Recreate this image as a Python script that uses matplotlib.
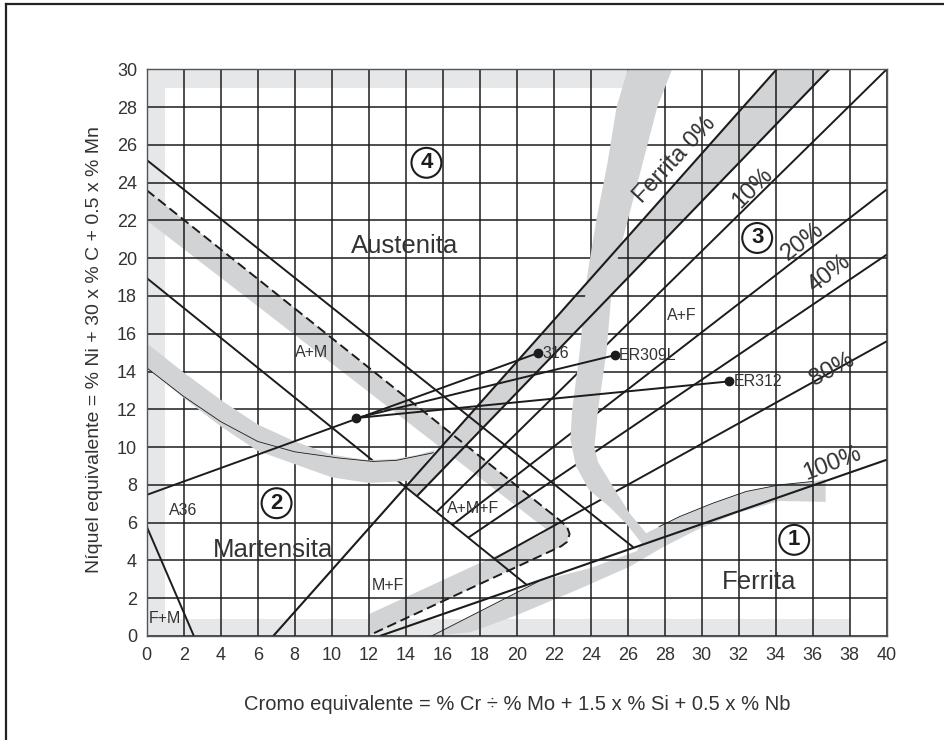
import matplotlib
matplotlib.use("Agg")
import matplotlib.pyplot as plt
from matplotlib.patches import Polygon
from matplotlib.lines import Line2D

plt.rcParams['font.family'] = ['Liberation Sans', 'DejaVu Sans']

# ---------------- data ----------------
x_ticks = list(range(0, 41, 2))
y_ticks = list(range(0, 31, 2))

# ferrite % lines: (x0, y0) -> (x1, y1)
ferr_names = ['0%', '5%', '10%', '20%', '40%', '80%', '100%']
ferr_x0 = [6.84, 14.6, 15.7, 16.55, 17.37, 18.81, 12.6]
ferr_y0 = [0.0, 7.4, 6.6, 5.9, 5.2, 4.1, 0.0]
ferr_x1 = [34.05, 36.9, 40.0, 40.0, 40.0, 40.0, 40.0]
ferr_y1 = [30.0, 30.0, 30.0, 23.64, 20.19, 15.6, 9.33]
ferr_over = [True, True, False, False, False, False, True]

# other boundary lines
bnd_x0 = [0.0, 0.0, 0.0]
bnd_y0 = [25.2, 18.95, 5.8]
bnd_x1 = [26.3, 20.55, 2.55]
bnd_y1 = [4.7, 2.7, 0.0]

# dashed boundary (A+M limit)
dash_x = [0.0, 22.3, 22.72, 22.86, 22.72, 22.4, 12.06]
dash_y = [23.6, 6.15, 5.78, 5.4, 4.98, 4.75, 0.05]

# gray band along the dashed boundary (inner edge)
dband_in_x = [12.0, 21.3, 21.6, 0.0]
dband_in_y = [1.15, 5.35, 5.65, 22.0]

# martensite curved band
mart_up_x = [0.0, 2.0, 4.0, 6.0, 8.0, 10.0, 12.0, 13.5, 14.6, 15.6]
mart_up_y = [15.5, 13.95, 12.5, 11.2, 10.3, 9.6, 9.3, 9.38, 9.58, 9.85]
mart_lo_x = [14.4, 14.0, 12.0, 10.0, 8.0, 6.0, 4.0, 2.0, 0.0]
mart_lo_y = [8.3, 8.2, 8.1, 8.4, 9.1, 9.8, 11.1, 12.6, 14.2]
mart_thin_x = [0.0, 2.0, 4.0, 6.0, 8.0, 10.4, 12.24, 13.5, 14.5, 15.5]
mart_thin_y = [14.2, 12.68, 11.35, 10.3, 9.75, 9.42, 9.24, 9.3, 9.5, 9.7]

# ferrite "S" band
s_left_x = [26.0, 25.4, 24.9, 24.3, 23.8, 23.4, 23.0, 22.9, 23.2, 23.9, 25.0, 25.9, 26.6, 27.0]
s_left_y = [30.0, 28.0, 25.0, 22.0, 19.0, 15.0, 12.0, 10.4, 9.0, 7.74, 6.85, 5.97, 5.1, 4.6]
s_right_x = [27.0, 26.1, 25.2, 24.4, 24.2, 24.4, 24.85, 25.2, 26.0, 26.8, 27.6, 28.4]
s_right_y = [5.44, 6.5, 7.91, 9.2, 10.0, 12.0, 15.0, 19.0, 22.0, 25.0, 28.0, 30.0]

# lower ferrite band
low_up_x = [15.4, 20.0, 21.2, 24.0, 26.5, 27.0, 27.7, 28.8, 30.6, 32.4, 34.2, 36.0, 36.7]
low_up_y = [0.0, 2.3, 2.9, 3.6, 4.5, 5.44, 5.79, 6.32, 7.03, 7.65, 8.0, 8.18, 8.3]
low_lo_x = [36.7, 34.2, 31.9, 29.7, 27.9, 26.1, 23.4, 20.0, 17.5, 15.4]
low_lo_y = [7.1, 7.15, 6.5, 5.6, 4.7, 3.67, 2.5, 1.1, 0.2, 0.0]
thin_low_x = [15.4, 21.2]
thin_low_y = [0.0, 2.9]
thin_up_x = [27.7, 28.8, 30.6, 32.4, 34.2, 36.0]
thin_up_y = [5.79, 6.32, 7.03, 7.65, 8.0, 8.18]

# light frame strips: (x, y, w, h)
strip_x = [0.0, 0.0, 0.0]
strip_y = [0.0, 29.0, 0.0]
strip_w = [1.0, 26.0, 38.0]
strip_h = [30.0, 1.0, 0.9]

# alloy points
mix_pt = (11.34, 11.54)
base_name = 'A36'
base_pt = (0.0, 7.47)
filler_names = ['316', 'ER309L', 'ER312']
filler_x = [21.15, 25.29, 31.5]
filler_y = [14.98, 14.86, 13.48]

# region labels
big_labels = ['Austenita', 'Martensita', 'Ferrita']
big_x = [13.95, 6.84, 33.1]
big_y = [20.63, 4.56, 2.88]
small_labels = ['A+M', 'A+F', 'A36', 'A+M+F', 'M+F', 'F+M']
small_x = [8.94, 28.94, 1.98, 17.64, 13.05, 0.99]
small_y = [15.01, 16.96, 6.64, 6.77, 2.67, 0.94]
circ_labels = ['4', '3', '2', '1']
circ_x = [15.12, 33.0, 7.02, 35.0]
circ_y = [25.05, 21.07, 7.03, 5.09]
pct_labels = ['Ferrita 0%', '10%', '20%', '40%', '80%', '100%']
pct_x = [28.55, 32.75, 35.45, 36.9, 37.07, 37.07]
pct_y = [25.2, 23.72, 20.9, 19.2, 14.1, 9.15]
pct_rot = [47, 45, 38, 38, 28, 21]

# ---------------- figure ----------------
W, H = 944, 740
fig = plt.figure(figsize=(W / 100, H / 100), dpi=100)
fig.patch.set_facecolor('white')
ax = fig.add_axes([146.7 / W, 1 - 636 / H, 740 / W, 566.7 / H])
ax.set_xlim(0, 40)
ax.set_ylim(0, 30)

LIGHT = '#e6e7e8'
MID = '#d2d3d5'
INK = '#1c1c1c'
TXT = '#333333'

for sx, sy, sw, sh in zip(strip_x, strip_y, strip_w, strip_h):
    ax.add_patch(plt.Rectangle((sx, sy), sw, sh, fc=LIGHT, ec='none', zorder=1))

# band along dashed boundary
poly = list(zip(dash_x, dash_y)) + list(zip(dband_in_x, dband_in_y))
ax.add_patch(Polygon(poly, closed=True, fc=MID, ec='none', zorder=1.2))

# diagonal band between 0% and 5% lines (from boundary line intersection)
p0x, p0y = 13.98, 7.87
diag = [(p0x, p0y), (ferr_x1[0], ferr_y1[0]), (ferr_x1[1], ferr_y1[1]), (ferr_x0[1], ferr_y0[1])]
ax.add_patch(Polygon(diag, closed=True, fc=MID, ec='none', zorder=1.2))

# lower band
poly = list(zip(low_up_x, low_up_y)) + list(zip(low_lo_x, low_lo_y))
ax.add_patch(Polygon(poly, closed=True, fc=MID, ec='none', zorder=1.2))

# lines under the curved bands
for i in range(len(ferr_names)):
    if not ferr_over[i]:
        ax.plot([ferr_x0[i], ferr_x1[i]], [ferr_y0[i], ferr_y1[i]], color=INK, lw=1.4,
                zorder=2, solid_capstyle='butt')
for i in range(len(bnd_x0)):
    ax.plot([bnd_x0[i], bnd_x1[i]], [bnd_y0[i], bnd_y1[i]], color=INK, lw=1.4, zorder=2,
            solid_capstyle='butt')

# curved bands on top
poly = list(zip(mart_up_x, mart_up_y)) + list(zip(mart_lo_x, mart_lo_y))
ax.add_patch(Polygon(poly, closed=True, fc=MID, ec='none', zorder=3))
poly = list(zip(s_left_x, s_left_y)) + list(zip(s_right_x, s_right_y))
ax.add_patch(Polygon(poly, closed=True, fc=MID, ec='none', zorder=3))

# thin edge lines
ax.plot(mart_thin_x, mart_thin_y, color=INK, lw=0.6, zorder=3.5)
ax.plot(thin_low_x, thin_low_y, color=INK, lw=0.6, zorder=3.5)
ax.plot(thin_up_x, thin_up_y, color=INK, lw=0.6, zorder=3.5)

# lines over the bands
for i in range(len(ferr_names)):
    if ferr_over[i]:
        ax.plot([ferr_x0[i], ferr_x1[i]], [ferr_y0[i], ferr_y1[i]], color=INK, lw=1.5,
                zorder=4, solid_capstyle='butt')
ax.plot(dash_x, dash_y, color=INK, lw=1.4, ls=(0, (5, 2.5)), zorder=4)

# tie lines
ax.plot([base_pt[0], filler_x[0]], [base_pt[1], filler_y[0]], color=INK, lw=1.4, zorder=4)
for fx, fy in zip(filler_x[1:], filler_y[1:]):
    ax.plot([mix_pt[0], fx], [mix_pt[1], fy], color=INK, lw=1.4, zorder=4)
ax.plot(filler_x + [mix_pt[0]], filler_y + [mix_pt[1]], ls='none', marker='o', ms=6,
        color=INK, zorder=6)
for nm, fx, fy in zip(filler_names, filler_x, filler_y):
    ax.text(fx + 0.25, fy, nm, fontsize=11.5, color=TXT, ha='left', va='center', zorder=7)

# grid
ax.set_xticks(x_ticks)
ax.set_yticks(y_ticks)
ax.grid(True, color=INK, lw=1.1, zorder=5)
ax.set_axisbelow(False)
for sp in ax.spines.values():
    sp.set_color('#555555')
    sp.set_linewidth(1.0)
    sp.set_zorder(6)
ax.tick_params(axis='both', length=0, labelsize=13, labelcolor=TXT)
ax.tick_params(axis='x', pad=8)
ax.tick_params(axis='y', pad=7)

# labels
for t, x, y in zip(big_labels, big_x, big_y):
    ax.text(x, y, t, fontsize=18.5, color=TXT, ha='center', va='center', zorder=7)
for t, x, y in zip(small_labels, small_x, small_y):
    ax.text(x, y, t, fontsize=11.5, color=TXT, ha='center', va='center', zorder=7)
for t, x, y in zip(circ_labels, circ_x, circ_y):
    ax.text(x, y, t, fontsize=16, fontweight='bold', color=INK, ha='center', va='center',
            zorder=7, bbox=dict(boxstyle='circle,pad=0.2', fc='white', ec=INK, lw=1.5))
for t, x, y, r in zip(pct_labels, pct_x, pct_y, pct_rot):
    ax.text(x, y, t, fontsize=17, color=TXT, ha='center', va='center', rotation=r,
            rotation_mode='anchor', zorder=7)

fig.text(517 / W, 1 - 705 / H,
         'Cromo equivalente = % Cr \u00f7 % Mo + 1.5 x % Si + 0.5 x % Nb',
         fontsize=14.5, color=TXT, ha='center', va='center')
fig.text(95 / W, 1 - 350 / H,
         'N\u00edquel equivalente = % Ni + 30 x % C + 0.5 x % Mn',
         fontsize=14, color=TXT, ha='center', va='center', rotation=90)

# outer frame (left and top edges)
fig.add_artist(Line2D([6 / W, 6 / W], [0, 1 - 4 / H], transform=fig.transFigure,
                      color='#222222', lw=1.6))
fig.add_artist(Line2D([6 / W, 1], [1 - 4 / H, 1 - 4 / H], transform=fig.transFigure,
                      color='#222222', lw=1.6))

fig.savefig('out.png', dpi=100)
